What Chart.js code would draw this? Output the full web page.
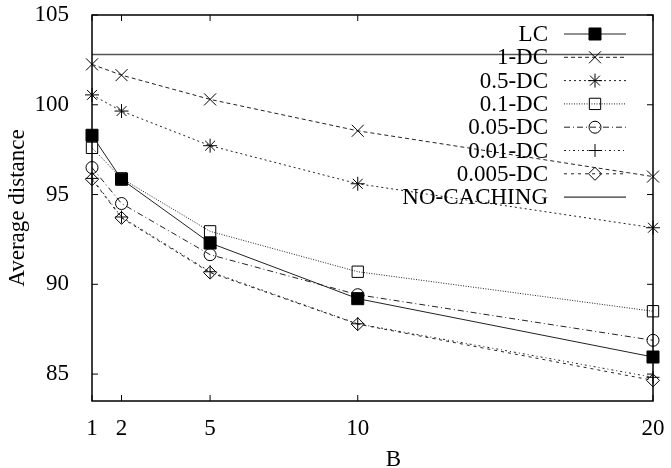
<!DOCTYPE html>
<html>
<head>
<meta charset="utf-8">
<script src="https://cdn.jsdelivr.net/npm/chart.js@4/dist/chart.umd.min.js"></script>
<style>
    body {margin: 0; background: #fff;}
</style>
</head>
<body>
<canvas id="myChart" width="671" height="468"></canvas>
<script>
const bValues = [1, 2, 5, 10, 20];
const xTicks = [1, 2, 5, 10, 20];
const yTicks = [85, 90, 95, 100, 105];

const lcValues = [98.3, 95.85, 92.3, 89.2, 85.95];
const dc1Values = [102.25, 101.65, 100.3, 98.55, 96.0];
const dc05Values = [100.55, 99.65, 97.72, 95.6, 93.15];
const dc01Values = [97.6, 95.9, 92.95, 90.7, 88.5];
const dc005Values = [96.5, 94.5, 91.65, 89.42, 86.88];
const dc001Values = [95.9, 93.75, 90.7, 87.8, 84.82];
const dc0005Values = [95.85, 93.7, 90.65, 87.78, 84.65];
const noCachingValues = [102.8, 102.8, 102.8, 102.8, 102.8];

const serif = '"Liberation Serif", "DejaVu Serif", serif';
const fontSize = 23;

function toPoints(values) {
    return values.map((v, i) => ({x: bValues[i], y: v}));
}

function makeSet(label, values, style, radius, fill, dash) {
    return {
        label: label,
        data: toPoints(values),
        borderColor: '#222',
        borderWidth: 1,
        borderDash: dash,
        pointStyle: style,
        pointRadius: radius,
        pointBorderColor: '#000',
        pointBorderWidth: 1,
        pointBackgroundColor: fill,
        backgroundColor: fill,
        tension: 0,
        clip: false
    };
}

const datasets = [
    makeSet('LC', lcValues, 'rect', 8.5, '#000', []),
    makeSet('1-DC', dc1Values, 'crossRot', 8.5, 'rgba(0,0,0,0)', [4, 3]),
    makeSet('0.5-DC', dc05Values, 'star', 7, 'rgba(0,0,0,0)', [2, 3]),
    makeSet('0.1-DC', dc01Values, 'rect', 8, 'rgba(0,0,0,0)', [1, 1.5]),
    makeSet('0.05-DC', dc005Values, 'circle', 6, 'rgba(0,0,0,0)', [6, 3, 1, 3]),
    makeSet('0.01-DC', dc001Values, 'cross', 6.5, 'rgba(0,0,0,0)', [2, 3, 1, 3]),
    makeSet('0.005-DC', dc0005Values, 'rectRot', 6.5, 'rgba(0,0,0,0)', [3, 4]),
    makeSet('NO-CACHING', noCachingValues, 'circle', 0, 'rgba(0,0,0,0)', [])
];
datasets[7].borderColor = '#555';
datasets[7].borderWidth = 1.5;

// frame, inward ticks, axis titles and the gnuplot style key
const gnuplotLook = {
    id: 'gnuplotLook',
    afterDraw(chart) {
        const ctx = chart.ctx;
        const a = chart.chartArea;
        const sx = chart.scales.x;
        const sy = chart.scales.y;
        ctx.save();
        ctx.strokeStyle = '#000';
        ctx.lineWidth = 1.5;
        ctx.setLineDash([]);
        ctx.strokeRect(a.left, a.top, a.right - a.left, a.bottom - a.top);

        ctx.lineWidth = 1;
        ctx.beginPath();
        sx.ticks.forEach(t => {
            const px = sx.getPixelForValue(t.value);
            ctx.moveTo(px, a.bottom);
            ctx.lineTo(px, a.bottom - 6);
            ctx.moveTo(px, a.top);
            ctx.lineTo(px, a.top + 6);
        });
        sy.ticks.forEach(t => {
            const py = sy.getPixelForValue(t.value);
            ctx.moveTo(a.left, py);
            ctx.lineTo(a.left + 6, py);
            ctx.moveTo(a.right, py);
            ctx.lineTo(a.right - 6, py);
        });
        ctx.stroke();

        ctx.fillStyle = '#000';
        ctx.font = fontSize + 'px ' + serif;
        ctx.textAlign = 'center';
        ctx.textBaseline = 'middle';
        ctx.fillText('B', (a.left + a.right) / 2 + 21, a.bottom + 59);
        ctx.save();
        ctx.translate(18, (a.top + a.bottom) / 2);
        ctx.rotate(-Math.PI / 2);
        ctx.fillText('Average distance', 0, 0);
        ctx.restore();

        // key
        chart.data.datasets.forEach((ds, i) => {
            const rowY = a.top + 19 + i * 23.3;
            ctx.fillStyle = '#000';
            ctx.textAlign = 'right';
            ctx.fillText(ds.label, a.right - 105, rowY + 1);

            ctx.strokeStyle = i === 7 ? '#000' : ds.borderColor;
            ctx.lineWidth = 1;
            ctx.setLineDash(ds.borderDash);
            ctx.beginPath();
            ctx.moveTo(a.right - 89, rowY);
            ctx.lineTo(a.right - 27, rowY);
            ctx.stroke();
            ctx.setLineDash([]);

            if (ds.pointRadius > 0) {
                ctx.strokeStyle = ds.pointBorderColor;
                ctx.fillStyle = ds.pointBackgroundColor;
                ctx.lineWidth = ds.pointBorderWidth;
                Chart.helpers.drawPoint(ctx, {
                    pointStyle: ds.pointStyle,
                    radius: ds.pointRadius,
                    rotation: 0,
                    borderWidth: ds.pointBorderWidth
                }, a.right - 58, rowY);
            }
        });
        ctx.restore();
    }
};

new Chart(document.getElementById('myChart'), {
    type: 'line',
    data: {datasets: datasets},
    options: {
        responsive: false,
        animation: false,
        layout: {padding: {top: 15, right: 18, left: 0, bottom: 0}},
        plugins: {
            legend: {display: false},
            tooltip: {enabled: false}
        },
        scales: {
            x: {
                type: 'linear',
                min: 1,
                max: 20,
                afterBuildTicks: scale => {
                    scale.ticks = xTicks.map(v => ({value: v}));
                },
                afterFit: scale => {
                    scale.height = 67;
                    scale.paddingLeft = 0;
                    scale.paddingRight = 0;
                },
                grid: {display: false},
                border: {display: false},
                ticks: {
                    color: '#000',
                    padding: 6,
                    maxRotation: 0,
                    font: {family: serif, size: fontSize}
                }
            },
            y: {
                type: 'linear',
                min: 83.5,
                max: 105,
                afterBuildTicks: scale => {
                    scale.ticks = yTicks.map(v => ({value: v}));
                },
                afterFit: scale => {
                    scale.width = 92;
                    scale.paddingTop = 0;
                    scale.paddingBottom = 0;
                },
                grid: {display: false},
                border: {display: false},
                ticks: {
                    color: '#000',
                    padding: 15,
                    font: {family: serif, size: fontSize}
                }
            }
        }
    },
    plugins: [gnuplotLook]
});
</script>
</body>
</html>
